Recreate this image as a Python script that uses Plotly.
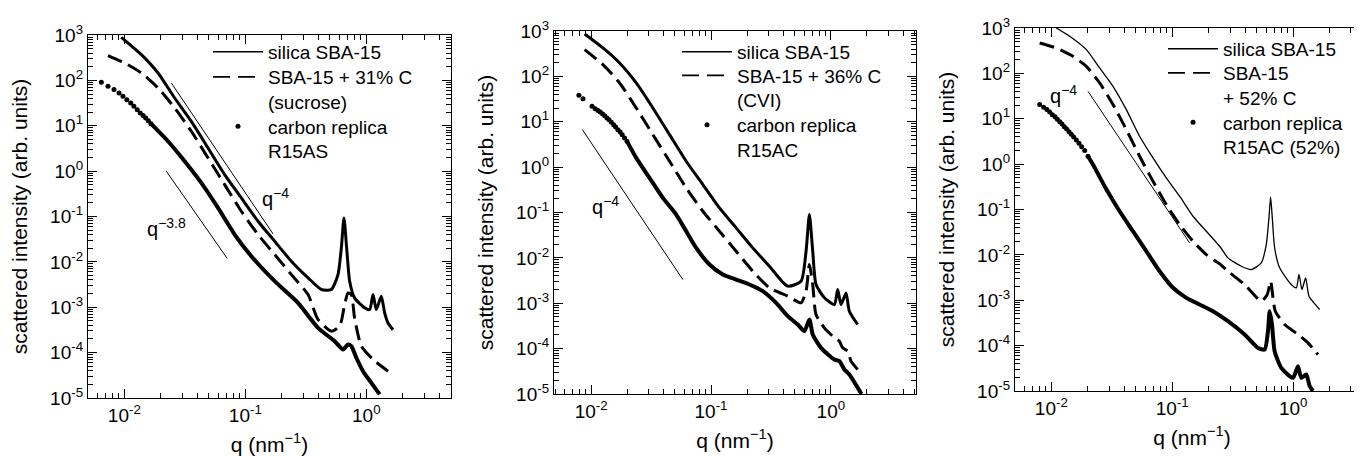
"""
SAXS curves of SBA-15 silica, silica/carbon composites and carbon replicas (three panels).
"""

import plotly.graph_objects as go

W, H = 1362, 456
FONT = "Liberation Sans, Arial, Helvetica, sans-serif"

# ---------------- panel 1: sucrose ----------------
p1_silica_q = [0.00945, 0.01383, 0.019, 0.02608, 0.0358, 0.0492, 0.0675, 0.0927, 0.1274, 0.1748,
               0.24, 0.33, 0.425, 0.514, 0.5835, 0.6218, 0.654, 0.688, 0.7286, 0.80, 0.969,
               1.066, 1.136, 1.21, 1.33, 1.418, 1.511, 1.663]
p1_silica_I = [889, 369, 145.6, 40.9, 12.5, 3.24, 0.84, 0.257, 0.0787, 0.0285,
               0.01035, 0.00445, 0.00246, 0.00246, 0.00526, 0.0203, 0.093, 0.0203, 0.00375, 0.00161, 0.00097,
               0.00089, 0.0019, 0.00089, 0.00175, 0.00075, 0.00045, 0.00032]

p1_comp_q = [0.00733, 0.01007, 0.01383, 0.019, 0.02608, 0.0358, 0.0492, 0.0675, 0.0927, 0.1274,
             0.1748, 0.24, 0.33, 0.399, 0.514, 0.6024, 0.6626, 0.706, 0.752, 0.80, 0.91, 1.136, 1.511]
p1_comp_I = [351, 241, 145.6, 68, 24.7, 7.55, 1.95, 0.505, 0.1306, 0.04,
             0.0145, 0.00526, 0.0019, 0.000537, 0.000297, 0.000383, 0.00115, 0.00207, 0.0019, 0.000583,
             0.000139, 7.06e-5, 3.9e-5]

p1_carbon_dots_q = [0.00646, 0.00733, 0.00822, 0.00904, 0.00975, 0.0105, 0.0113, 0.012, 0.0128,
                    0.01355, 0.0143, 0.01503, 0.0158, 0.0166]
p1_carbon_dots_I = [90.8, 74, 62.6, 52.8, 44.5, 37.6, 31.7, 26.8, 22.5, 19, 16.9, 14.8, 12.9, 11.1]
p1_carbon_q = [0.0166, 0.02297, 0.03155, 0.0433, 0.0595, 0.0817, 0.1122, 0.1748, 0.2725, 0.399,
               0.548, 0.642, 0.706, 0.752, 0.827, 0.939, 1.1, 1.29]
p1_carbon_I = [11.1, 4.55, 1.65, 0.55, 0.1546, 0.04, 0.01333, 0.00375, 0.00125, 0.000352,
               0.000179, 0.000117, 0.000151, 0.000139, 7.7e-5, 3.9e-5, 2.16e-5, 1.2e-5]

p1_ref4_q = [0.02447, 0.1694]
p1_ref4_I = [87.7, 0.0414]
p1_ref38_q = [0.02225, 0.071]
p1_ref38_I = [0.993, 0.01183]

# ---------------- panel 2: CVI ----------------
p2_silica_q = [0.00882, 0.01254, 0.01727, 0.02377, 0.03273, 0.04508, 0.06206, 0.0855, 0.1176, 0.162,
               0.223, 0.307, 0.4365, 0.5637, 0.6206, 0.6616, 0.7054, 0.7517, 0.882, 1.069, 1.14,
               1.215, 1.337, 1.425, 1.672]
p2_silica_I = [859, 423, 197, 71.6, 20.1, 5.2, 1.35, 0.412, 0.126, 0.0458,
               0.0166, 0.00655, 0.00238, 0.00306, 0.01403, 0.0901, 0.01403, 0.00259, 0.00132, 0.000938, 0.002,
               0.000938, 0.00169, 0.000668, 0.00034]

p2_comp_q = [0.00882, 0.01254, 0.01727, 0.02377, 0.03273, 0.04508, 0.06206, 0.0855, 0.1176, 0.162,
             0.223, 0.307, 0.4365, 0.5637, 0.6206, 0.6616, 0.7054, 0.7517, 0.882, 1.035, 1.177,
             1.254, 1.38, 1.472, 1.672]
p2_comp_I = [388, 181, 71.6, 20.1, 5.2, 1.35, 0.348, 0.1067, 0.0387, 0.01403,
             0.00508, 0.00219, 0.00143, 0.00102, 0.00185, 0.00713, 0.00259, 0.000565, 0.000287, 0.000188, 0.000146,
             0.000104, 8.8e-5, 5.3e-5, 3.47e-5]

p2_carbon_dots_q = [0.0079, 0.00855, 0.01017, 0.0108, 0.0114, 0.0119, 0.01247, 0.01297, 0.01355,
                    0.01408, 0.01472, 0.0154, 0.016, 0.0167, 0.01746, 0.01815, 0.019, 0.0199]
p2_carbon_dots_I = [38.4, 32.3, 21.9, 19.4, 17.6, 16.4, 14.9, 13.6, 12.1,
                    11.0, 9.75, 8.63, 7.67, 6.7, 5.96, 5.2, 4.4, 3.7]
p2_carbon_q = [0.0199, 0.02377, 0.0307, 0.03964, 0.05122, 0.06206, 0.0752, 0.0971, 0.1254, 0.162,
               0.2092, 0.27, 0.349, 0.4365, 0.529, 0.601, 0.6616, 0.7054, 0.828, 1.069, 1.177,
               1.295, 1.425, 1.8]
p2_carbon_I = [3.7, 1.6, 0.578, 0.21, 0.09, 0.0387, 0.0166, 0.00713, 0.0043, 0.00333,
               0.00259, 0.00185, 0.00102, 0.000519, 0.00034, 0.000243, 0.000438, 0.000205, 0.000104, 5.77e-5, 5.3e-5,
               3.47e-5, 2.69e-5, 1.0e-5]

p2_ref4_q = [0.00844, 0.0582]
p2_ref4_I = [6.71, 0.00333]

# ---------------- panel 3: 52 % C ----------------
p3_silica_q = [0.011, 0.01418, 0.01948, 0.0251, 0.03236, 0.0417, 0.0537, 0.0693, 0.0892, 0.115,
               0.1483, 0.191, 0.2463, 0.2885, 0.372, 0.45, 0.544, 0.5984, 0.6294, 0.65, 0.671,
               0.7015, 0.7714, 0.963, 1.06, 1.115, 1.18, 1.265, 1.348, 1.483, 1.652]
p3_silica_I = [1000, 655, 333, 131.5, 51.9, 15.9, 4.11, 1.37, 0.497, 0.196,
               0.071, 0.0332, 0.0155, 0.00859, 0.00562, 0.00475, 0.00667, 0.0169, 0.0653, 0.186, 0.0653,
               0.01426, 0.00518, 0.00222, 0.00188, 0.00369, 0.00172, 0.00311, 0.00123, 0.000877, 0.000625]

p3_comp_q = [0.00801, 0.011, 0.0151, 0.01948, 0.0251, 0.03236, 0.0417, 0.0537, 0.0693, 0.0892,
             0.115, 0.1483, 0.191, 0.2463, 0.2885, 0.3963, 0.544, 0.61, 0.65, 0.68, 0.71,
             0.849, 1.094, 1.323, 1.6]
p3_comp_I = [468, 362, 238, 143, 61.5, 20.5, 5.77, 1.49, 0.42, 0.1285,
             0.0466, 0.02, 0.01016, 0.00634, 0.00436, 0.00222, 0.000955, 0.00134, 0.00263, 0.00113, 0.000574,
             0.000292, 0.000176, 0.000115, 6.38e-5]

p3_carbon_dots_q = [0.00802, 0.00865, 0.0092, 0.0097, 0.0102, 0.01073, 0.01122, 0.01175, 0.01226,
                    0.0128, 0.0134, 0.014, 0.01463, 0.01531, 0.0161, 0.01694, 0.01782, 0.01888, 0.0201]
p3_carbon_dots_I = [20.5, 17.9, 15.9, 14.1, 12.3, 11.0, 9.8, 8.6, 7.67,
                    6.7, 5.96, 5.2, 4.56, 3.98, 3.41, 2.89, 2.43, 1.99, 1.49]
p3_carbon_q = [0.0201, 0.0221, 0.0285, 0.0367, 0.0473, 0.061, 0.0786, 0.1014, 0.1306, 0.1683,
               0.217, 0.2885, 0.3963, 0.5107, 0.58, 0.618, 0.638, 0.667, 0.7015, 0.796, 0.994,
               1.093, 1.165, 1.281, 1.366, 1.455]
p3_carbon_I = [1.49, 0.977, 0.279, 0.0917, 0.0332, 0.01205, 0.00436, 0.00188, 0.00113, 0.000805,
               0.000574, 0.000346, 0.000176, 8.9e-5, 8.2e-5, 0.000208, 0.000574, 0.000292, 7.55e-5, 3.24e-5, 1.95e-5,
               3.53e-5, 1.95e-5, 2.31e-5, 1.28e-5, 1.0e-5]

p3_ref4_q = [0.0201, 0.1391]
p3_ref4_I = [40.3, 0.01836]

# ---------------- texts and ticks ----------------
names_1 = ["silica SBA-15", "SBA-15 + 31% C<br>(sucrose)", "carbon replica<br>R15AS"]
names_2 = ["silica SBA-15", "SBA-15 + 36% C<br>(CVI)", "carbon replica<br>R15AC"]
names_3 = ["silica SBA-15", "SBA-15<br>+ 52% C", "carbon replica<br>R15AC (52%)"]

y_tickvals = [1e-5, 1e-4, 1e-3, 1e-2, 1e-1, 1e0, 1e1, 1e2, 1e3]
y_ticktext = ["10<sup>-5</sup>", "10<sup>-4</sup>", "10<sup>-3</sup>", "10<sup>-2</sup>",
              "10<sup>-1</sup>", "10<sup>0</sup>", "10<sup>1</sup>", "10<sup>2</sup>", "10<sup>3</sup>"]
x_tickvals = [1e-2, 1e-1, 1e0]
x_ticktext = ["10<sup>-2</sup>", "10<sup>-1</sup>", "10<sup>0</sup>"]

y_minor = [m * 10.0 ** e for e in range(-5, 3) for m in range(2, 10)]
x_minor = [m * 10.0 ** e for e in range(-3, 1) for m in range(2, 10)]


def fx(x):
    return x / W


def fy(y):
    return 1 - y / H


# pixel boxes of the three plot areas: left, right, top, bottom; and x range (log10)
panels = [
    dict(l=80, r=443, t=27, b=390, xr=[-2.30, 0.70]),
    dict(l=546, r=908, t=23, b=386, xr=[-2.31, 0.71]),
    dict(l=1007, r=1361, t=20, b=383, xr=[-2.30, 0.626]),
]

# one small legend per key entry: left edge (px) and centre of its first text row (px)
key_x = [200, 669, 1155]
key_rows = [(53, 78, 127.5), (53, 76.5, 126), (50, 74, 123.5)]
KEY_OFFSET = 28  # distance from legend top to its first text row
KEY_FONT = 19

fig = go.Figure()

DASH = "15px,7px"

series = [
    (names_1, p1_silica_q, p1_silica_I, 3, p1_comp_q, p1_comp_I,
     p1_carbon_dots_q, p1_carbon_dots_I, p1_carbon_q, p1_carbon_I,
     [(p1_ref4_q, p1_ref4_I), (p1_ref38_q, p1_ref38_I)]),
    (names_2, p2_silica_q, p2_silica_I, 3, p2_comp_q, p2_comp_I,
     p2_carbon_dots_q, p2_carbon_dots_I, p2_carbon_q, p2_carbon_I,
     [(p2_ref4_q, p2_ref4_I)]),
    (names_3, p3_silica_q, p3_silica_I, 1.3, p3_comp_q, p3_comp_I,
     p3_carbon_dots_q, p3_carbon_dots_I, p3_carbon_q, p3_carbon_I,
     [(p3_ref4_q, p3_ref4_I)]),
]

legend_names = ["legend"] + [f"legend{k}" for k in range(2, 10)]

for i, (names, sq, si, sw, cq, ci, dq, di, lq, li, refs) in enumerate(series):
    n = i + 1
    xa = "x" if n == 1 else f"x{n}"
    ya = "y" if n == 1 else f"y{n}"
    lgs = legend_names[3 * i: 3 * i + 3]
    fig.add_trace(go.Scatter(x=sq, y=si, mode="lines", name=names[0], xaxis=xa, yaxis=ya,
                             showlegend=False,
                             line=dict(color="black", width=sw, shape="spline", smoothing=0.6)))
    fig.add_trace(go.Scatter(x=cq, y=ci, mode="lines", name=names[1], xaxis=xa, yaxis=ya,
                             showlegend=False,
                             line=dict(color="black", width=3, dash=DASH, shape="spline", smoothing=0.6)))
    fig.add_trace(go.Scatter(x=dq, y=di, mode="markers", name=names[2], xaxis=xa, yaxis=ya,
                             showlegend=False, marker=dict(color="black", size=5)))
    fig.add_trace(go.Scatter(x=lq, y=li, mode="lines", showlegend=False, xaxis=xa, yaxis=ya,
                             line=dict(color="black", width=4, shape="spline", smoothing=0.6)))
    for rq, ri in refs:
        fig.add_trace(go.Scatter(x=rq, y=ri, mode="lines", showlegend=False, xaxis=xa, yaxis=ya,
                                 line=dict(color="black", width=1)))
    # key entries (thin samples, as in the original key)
    fig.add_trace(go.Scatter(x=[None], y=[None], mode="lines", name=names[0], xaxis=xa, yaxis=ya,
                             legend=lgs[0], line=dict(color="black", width=1.5)))
    fig.add_trace(go.Scatter(x=[None], y=[None], mode="lines", name=names[1], xaxis=xa, yaxis=ya,
                             legend=lgs[1], line=dict(color="black", width=1.8, dash="17px,8px")))
    fig.add_trace(go.Scatter(x=[None], y=[None], mode="markers", name=names[2], xaxis=xa, yaxis=ya,
                             legend=lgs[2], marker=dict(color="black", size=5)))

axis_common = dict(type="log", showline=True, linecolor="black", linewidth=1.3, mirror="ticks",
                   ticks="inside", ticklen=9, tickwidth=1.2, tickcolor="black", showgrid=False,
                   zeroline=False, automargin=False,
                   tickfont=dict(family=FONT, size=19, color="black"))

layout = dict(template="none", width=W, height=H, margin=dict(l=0, r=0, t=0, b=0, autoexpand=False),
              paper_bgcolor="white", plot_bgcolor="white",
              font=dict(family=FONT, color="black"))

for i, p in enumerate(panels):
    n = i + 1
    xk = "xaxis" if n == 1 else f"xaxis{n}"
    yk = "yaxis" if n == 1 else f"yaxis{n}"
    layout[xk] = dict(axis_common, domain=[fx(p["l"]), fx(p["r"])], range=p["xr"],
                      anchor="y" if n == 1 else f"y{n}",
                      tickvals=x_tickvals, ticktext=x_ticktext,
                      minor=dict(tickvals=x_minor, ticks="inside", ticklen=5, tickcolor="black"),
                      title=dict(text="q (nm<sup>−1</sup>)", standoff=12,
                                 font=dict(family=FONT, size=21, color="black")))
    layout[yk] = dict(axis_common, domain=[fy(p["b"]), fy(p["t"])], range=[-5, 3],
                      anchor="x" if n == 1 else f"x{n}",
                      tickvals=y_tickvals, ticktext=y_ticktext,
                      minor=dict(tickvals=y_minor, ticks="inside", ticklen=5, tickcolor="black"),
                      title=dict(text="scattered intensity (arb. units)", standoff=16,
                                 font=dict(family=FONT, size=21, color="black")))
    for j in range(3):
        lk = legend_names[3 * i + j]
        layout[lk] = dict(x=fx(key_x[i]), y=fy(key_rows[i][j] - KEY_OFFSET), xanchor="left", yanchor="top",
                          bgcolor="rgba(0,0,0,0)", borderwidth=0, itemwidth=50, valign="top",
                          tracegroupgap=0, font=dict(family=FONT, size=KEY_FONT, color="black"))

fig.update_layout(**layout)

# slope labels
labels = [("q<sup>−4</sup>", 252, 189), ("q<sup>−3.8</sup>", 137, 219),
          ("q<sup>−4</sup>", 582, 197), ("q<sup>−4</sup>", 1040, 86)]
for text, x, y in labels:
    fig.add_annotation(text=text, x=fx(x), y=fy(y), xref="paper", yref="paper",
                       xanchor="left", yanchor="middle", showarrow=False,
                       font=dict(family=FONT, size=20, color="black"))

fig.write_html("out.html")
